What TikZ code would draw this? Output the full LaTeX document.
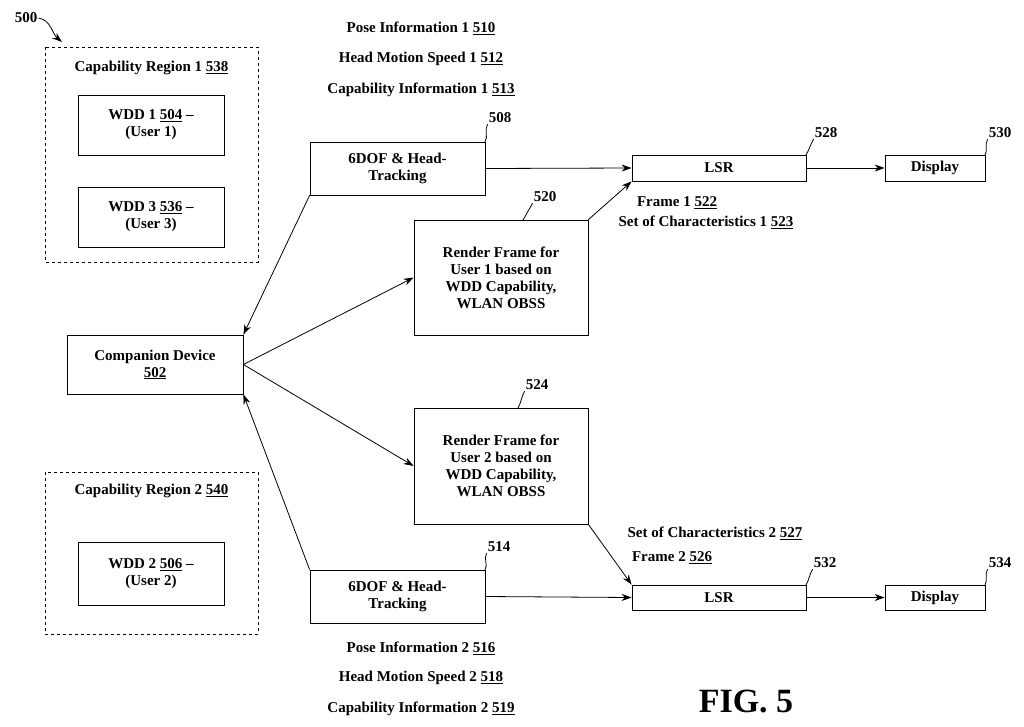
\documentclass[tikz,border=0pt]{standalone}
\usepackage{fontspec}
\setmainfont{Liberation Serif}
\usetikzlibrary{positioning,arrows,arrows.meta}

\begin{document}
\begin{tikzpicture}[x=1pt,y=-1pt,
    box/.style={draw, thick, align=center, inner sep=0pt, font=\fontsize{15}{17}\selectfont\bfseries},
    region/.style={draw, thick, dashed},
    txt/.style={font=\fontsize{15}{17}\selectfont\bfseries, inner sep=0pt},
    num/.style={font=\fontsize{15}{17}\selectfont\bfseries, inner sep=1pt},
    arr/.style={-{Stealth[length=10pt,width=7pt]}, thick},
    lead/.style={thick}
    ]
    \useasboundingbox (0,0) rectangle (1024,726);
        %Regions
        \draw[region] (45,47) rectangle (258,262);
        \draw[region] (45,472) rectangle (258,634);
        \node[txt] (reg1) at (151.5,68) {Capability Region 1 \underline{538}};
        \node[txt] (reg2) at (151.5,491) {Capability Region 2 \underline{540}};

        %Boxes
        \node[box, minimum width=146, minimum height=60] (wdd1) at (151,125) {WDD 1 \underline{504} --\\(User 1)};
        \node[box, minimum width=146, minimum height=60] (wdd3) at (151,217) {WDD 3 \underline{536} --\\(User 3)};
        \node[box, minimum width=146, minimum height=63] (wdd2) at (151,573.5) {WDD 2 \underline{506} --\\(User 2)};
        \node[box, minimum width=176, minimum height=59] (comp) at (155,364.5) {Companion Device\\\underline{502}};
        \node[box, minimum width=175, minimum height=53] (dofA) at (397.5,168.5) {6DOF \& Head-\\Tracking};
        \node[box, minimum width=175, minimum height=53] (dofB) at (397.5,596.5) {6DOF \& Head-\\Tracking};
        \node[box, minimum width=174, minimum height=115] (rendA) at (501,277.5) {Render Frame for\\User 1 based on\\WDD Capability,\\WLAN OBSS};
        \node[box, minimum width=174, minimum height=116] (rendB) at (501,466) {Render Frame for\\User 2 based on\\WDD Capability,\\WLAN OBSS};
        \node[box, minimum width=174, minimum height=26] (lsrA) at (719,168) {LSR};
        \node[box, minimum width=174, minimum height=25] (lsrB) at (719,597.5) {LSR};
        \node[box, minimum width=100, minimum height=26] (dispA) at (935,168) {Display};
        \node[box, minimum width=100, minimum height=25] (dispB) at (935,597.5) {Display};

        %Labels
        \node[txt] (poseA) at (421,28) {Pose Information 1 \underline{510}};
        \node[txt] (speedA) at (421,59) {Head Motion Speed 1 \underline{512}};
        \node[txt] (capA) at (421,90) {Capability Information 1 \underline{513}};
        \node[txt] (poseB) at (421,648) {Pose Information 2 \underline{516}};
        \node[txt] (speedB) at (421,678) {Head Motion Speed 2 \underline{518}};
        \node[txt] (capB) at (421,709) {Capability Information 2 \underline{519}};
        \node[txt] (frameA) at (677,203) {Frame 1 \underline{522}};
        \node[txt] (charA) at (706,222) {Set of Characteristics 1 \underline{523}};
        \node[txt] (charB) at (715,533) {Set of Characteristics 2 \underline{527}};
        \node[txt] (frameB) at (672,558) {Frame 2 \underline{526}};
        \node[font=\fontsize{34}{38}\selectfont\bfseries, inner sep=0pt] (fig) at (746,701) {FIG. 5};

        %Reference numerals
        \node[num] (n500) at (26,18) {500};
        \node[num] (n508) at (500,118) {508};
        \node[num] (n520) at (545,197) {520};
        \node[num] (n524) at (537,385) {524};
        \node[num] (n514) at (499,547) {514};
        \node[num] (n528) at (826,133) {528};
        \node[num] (n530) at (1000,133) {530};
        \node[num] (n532) at (825,563) {532};
        \node[num] (n534) at (1000,563) {534};
        \draw[arr] (n500.east) to[out=-10,in=140] (62,42);
        \draw[lead] (n508.south west) to[out=-120,in=60] (485,142);
        \draw[lead] (n520.south west) to[out=-120,in=60] (523,220);
        \draw[lead] (n524.south west) to[out=-120,in=60] (518,408);
        \draw[lead] (n514.south west) to[out=-120,in=60] (485,570);
        \draw[lead] (n528.south west) to[out=-120,in=60] (806,155);
        \draw[lead] (n530.south west) to[out=-120,in=60] (985,155);
        \draw[lead] (n532.south west) to[out=-120,in=60] (806,585);
        \draw[lead] (n534.south west) to[out=-120,in=60] (985,585);

        %Lines
        \draw[arr] (dofA.south west) -- (comp.north east);
        \draw[arr] (dofB.north west) -- (comp.south east);
        \draw[arr] (comp.east) -- (rendA.west);
        \draw[arr] (comp.east) -- (rendB.west);
        \draw[arr] (dofA.east) -- (lsrA.west);
        \draw[arr] (dofB.east) -- (lsrB.west);
        \draw[arr] (rendA.north east) -- (lsrA.south west);
        \draw[arr] (rendB.south east) -- (lsrB.north west);
        \draw[arr] (lsrA.east) -- (dispA.west);
        \draw[arr] (lsrB.east) -- (dispB.west);
    \end{tikzpicture}
\end{document}
